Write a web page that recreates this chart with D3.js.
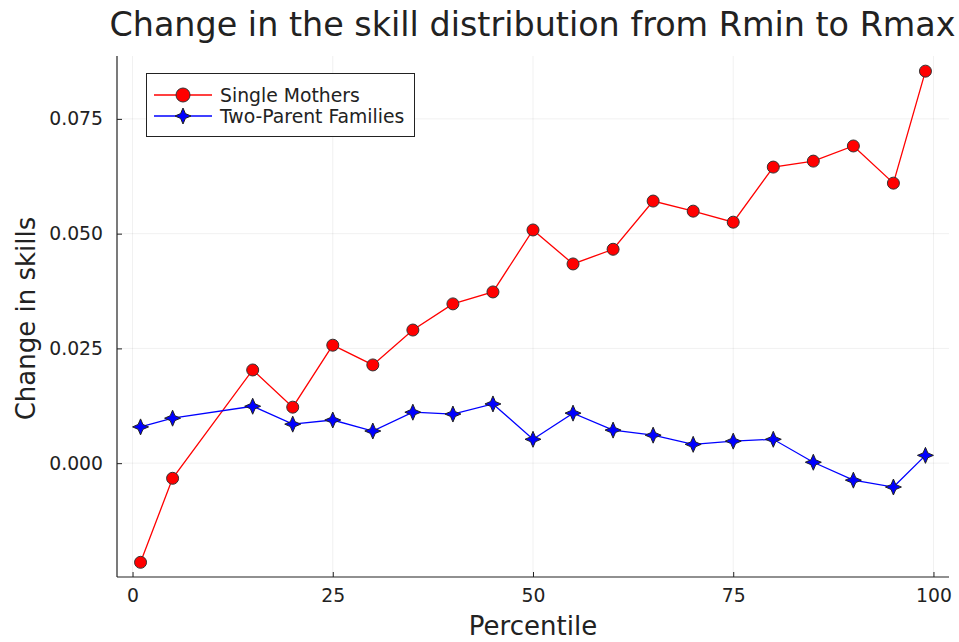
<!DOCTYPE html>
<html><head><meta charset="utf-8">
<script src="https://cdn.jsdelivr.net/npm/d3@7"></script>
<style>body{margin:0;background:#fff;} text{font-family:"DejaVu Sans",sans-serif;fill:#222;}</style>
</head><body><svg id="c" width="959" height="642"></svg>
<script>
const percentiles = [1,5,15,20,25,30,35,40,45,50,55,60,65,70,75,80,85,90,95,99];
const singleMothers = [-0.0216,-0.0033,0.0203,0.0122,0.0257,0.0214,0.0290,0.0347,0.0373,0.0508,0.0434,0.0466,0.0571,0.0549,0.0525,0.0645,0.0658,0.0691,0.0610,0.0854];
const twoParent = [0.0079,0.0098,0.0124,0.0085,0.0094,0.0070,0.0111,0.0107,0.0129,0.0052,0.0109,0.0072,0.0061,0.0041,0.0048,0.0052,0.0002,-0.0037,-0.0052,0.0017];
const xTicks = [0,25,50,75,100];
const yTicks = [0,0.025,0.05,0.075];
const titleText = "Change in the skill distribution from Rmin to Rmax";
const xLabel = "Percentile", yLabel = "Change in skills";
const seriesNames = ["Single Mothers","Two-Parent Families"];

const svg = d3.select("#c");
const L=117, R=949, T=56, B=577;
const x = d3.scaleLinear().domain([-1.94,101.94]).range([L,R]);
const y = d3.scaleLinear().domain([-0.0248,0.0887]).range([B,T]);

// grid
svg.append("g").selectAll("line").data(xTicks).join("line")
  .attr("x1",d=>x(d)).attr("x2",d=>x(d)).attr("y1",T).attr("y2",B)
  .attr("stroke","#000").attr("stroke-opacity",0.1).attr("stroke-width",0.6);
svg.append("g").selectAll("line").data(yTicks).join("line")
  .attr("y1",d=>y(d)).attr("y2",d=>y(d)).attr("x1",L).attr("x2",R)
  .attr("stroke","#000").attr("stroke-opacity",0.1).attr("stroke-width",0.6);

// axes
const xAxis = svg.append("g").attr("transform",`translate(0,${B})`)
  .call(d3.axisBottom(x).tickValues(xTicks).tickSizeInner(-5).tickSizeOuter(0).tickPadding(12).tickFormat(d3.format("d")));
const yAxis = svg.append("g").attr("transform",`translate(${L},0)`)
  .call(d3.axisLeft(y).tickValues(yTicks).tickSizeInner(-5).tickSizeOuter(0).tickPadding(14).tickFormat(d3.format(".3f")));
[xAxis,yAxis].forEach(a=>{
  a.select(".domain").attr("stroke","#222").attr("stroke-width",1.2);
  a.selectAll(".tick line").attr("stroke","#222").attr("stroke-width",1);
  a.selectAll("text").attr("font-size",18.8).attr("fill","#222").style("font-family","DejaVu Sans");
});
xAxis.select(".domain").attr("d",`M${L},0H${R}`);
yAxis.select(".domain").attr("d",`M0,${T}V${B}`);

const star4 = (s)=>{const r=s*0.3;return `M0,${-s}L${r},${-r}L${s},0L${r},${r}L0,${s}L${-r},${r}L${-s},0L${-r},${-r}Z`;};
const line = d3.line().x((d,i)=>x(percentiles[i])).y(d=>y(d));
const plot = svg.append("g");
plot.append("path").datum(singleMothers).attr("d",line).attr("fill","none").attr("stroke","#ff0000").attr("stroke-width",1.3);
plot.append("path").datum(twoParent).attr("d",line).attr("fill","none").attr("stroke","#0000ff").attr("stroke-width",1.3);
plot.append("g").selectAll("circle").data(singleMothers).join("circle")
  .attr("cx",(d,i)=>x(percentiles[i])).attr("cy",d=>y(d)).attr("r",6)
  .attr("fill","#ff0000").attr("stroke","#333").attr("stroke-width",1);
plot.append("g").selectAll("path").data(twoParent).join("path")
  .attr("transform",(d,i)=>`translate(${x(percentiles[i])},${y(d)})`).attr("d",star4(8))
  .attr("fill","#0000ff").attr("stroke","#222").attr("stroke-width",1);

// title & labels
svg.append("text").attr("x",532.5).attr("y",36).attr("text-anchor","middle").attr("font-size",33.4).text(titleText);
svg.append("text").attr("x",533).attr("y",635).attr("text-anchor","middle").attr("font-size",26).text(xLabel);
svg.append("text").attr("transform",`translate(35,318.5) rotate(-90)`).attr("text-anchor","middle").attr("font-size",26).text(yLabel);

// legend
const lg = svg.append("g");
lg.append("rect").attr("x",146.5).attr("y",73.5).attr("width",268).attr("height",63).attr("fill","#fff").attr("stroke","#222").attr("stroke-width",1);
const ly=[95,116];
lg.append("line").attr("x1",154).attr("x2",212).attr("y1",ly[0]).attr("y2",ly[0]).attr("stroke","#ff0000").attr("stroke-width",1.3);
lg.append("circle").attr("cx",183).attr("cy",ly[0]).attr("r",7).attr("fill","#ff0000").attr("stroke","#333");
lg.append("line").attr("x1",154).attr("x2",212).attr("y1",ly[1]).attr("y2",ly[1]).attr("stroke","#0000ff").attr("stroke-width",1.3);
lg.append("path").attr("transform",`translate(183,${ly[1]})`).attr("d",star4(8)).attr("fill","#0000ff").attr("stroke","#222");
seriesNames.forEach((n,i)=>lg.append("text").attr("x",220).attr("y",ly[i]+6.5).attr("font-size",18.8).text(n));
</script></body></html>
